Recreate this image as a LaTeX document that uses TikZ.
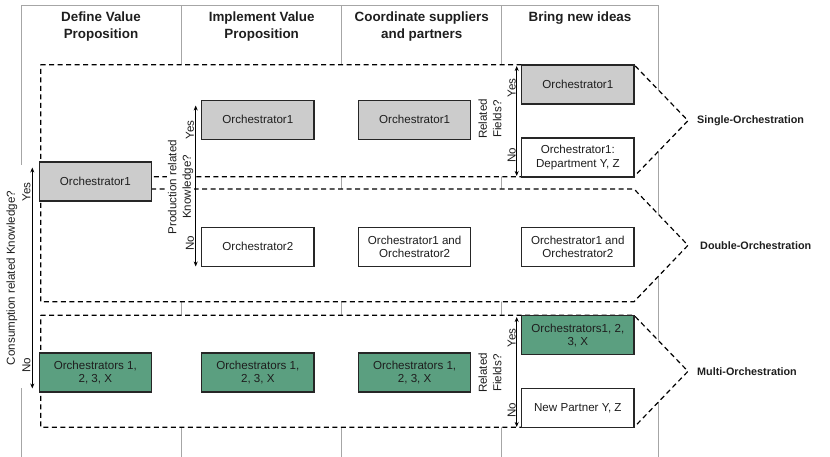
\documentclass[tikz,border=0pt]{standalone}
\usepackage{fontspec}
\setmainfont{Liberation Sans}
\usetikzlibrary{arrows.meta}
\definecolor{gridgrey}{HTML}{A6A6A6}
\definecolor{boxgrey}{HTML}{CCCCCC}
\definecolor{boxgreen}{HTML}{5B9F80}
\definecolor{txt}{HTML}{1E1E1E}
\begin{document}
\begin{tikzpicture}[x=1pt,y=-1pt,
  gridline/.style={draw=gridgrey, line width=1pt},
  chev/.style={draw=black, fill=white, dash pattern=on 5pt off 3.5pt, line width=1.2pt},
  obox/.style={draw=black!85, line width=1.2pt, minimum width=112.3pt, minimum height=39pt, inner sep=1pt, align=center, text=txt, font=\fontsize{11.6}{13.5}\selectfont},
  greybox/.style={obox, fill=boxgrey},
  greenbox/.style={obox, fill=boxgreen},
  whitebox/.style={obox, fill=white},
  header/.style={font=\fontsize{13.4}{16.7}\selectfont\bfseries, align=center, text=txt},
  grouplabel/.style={font=\fontsize{10.8}{13}\selectfont\bfseries, anchor=west, text=txt, inner sep=0pt},
  sidelabel/.style={rotate=90, font=\fontsize{11.6}{14.5}\selectfont, align=center, inner sep=1pt, text=txt},
  yn/.style={rotate=90, font=\fontsize{11.6}{14}\selectfont, inner sep=0pt, text=txt},
  dblarrow/.style={{Stealth[length=5pt,width=4pt]}-{Stealth[length=5pt,width=4pt]}, line width=0.8pt, draw=black}
]
\useasboundingbox (0,0) rectangle (830,457);

% grid lines of the table
\draw[gridline] (21,165) -- (21,6) -- (658,6) -- (658,457);
\draw[gridline] (21,388) -- (21,457);
\draw[gridline] (181.7,6) -- (181.7,457);
\draw[gridline] (341.7,6) -- (341.7,457);
\draw[gridline] (501.7,6) -- (501.7,457);

% headers
\node[header] (h1) at (101,26.7) {Define Value\\Proposition};
\node[header] (h2) at (261.7,26.7) {Implement Value\\Proposition};
\node[header] (h3) at (421.7,26.7) {Coordinate suppliers\\and partners};
\node[header] (h4) at (580,18.3) {Bring new ideas};

% group chevrons
\draw[chev] (40.7,64.7) -- (634,64.7) -- (688,120.7) -- (634,176.7) -- (40.7,176.7) -- cycle;
\draw[chev] (40.7,189) -- (634,189) -- (688,245.3) -- (634,301.7) -- (40.7,301.7) -- cycle;
\draw[chev] (40.7,315.3) -- (634,315.3) -- (688,371.3) -- (634,427.3) -- (40.7,427.3) -- cycle;

\node[grouplabel] (gs) at (697,120.7) {Single-Orchestration};
\node[grouplabel] (gd) at (700,245.5) {Double-Orchestration};
\node[grouplabel] (gm) at (697,371.5) {Multi-Orchestration};

% boxes
\node[greybox]  (d1) at (95.35,181.5) {Orchestrator1};
\node[greenbox] (d3) at (95.35,372.5) {Orchestrators 1,\\2, 3, X};

\node[greybox]  (i1) at (257.85,119.65) {Orchestrator1};
\node[whitebox] (i2) at (257.85,246.7) {Orchestrator2};
\node[greenbox] (i3) at (257.85,372.5) {Orchestrators 1,\\2, 3, X};

\node[greybox]  (c1) at (414.65,119.65) {Orchestrator1};
\node[whitebox] (c2) at (414.65,246.7) {Orchestrator1 and\\Orchestrator2};
\node[greenbox] (c3) at (414.65,372.5) {Orchestrators 1,\\2, 3, X};

\node[greybox]  (b1) at (577.85,84.5) {Orchestrator1};
\node[whitebox] (b2) at (577.85,157.5) {Orchestrator1:\\Department Y, Z};
\node[whitebox] (b3) at (577.85,246.7) {Orchestrator1 and\\Orchestrator2};
\node[greenbox] (b4) at (577.85,335.3) {Orchestrators1, 2,\\3, X};
\node[whitebox] (b5) at (577.85,407.8) {New Partner Y, Z};

% consumption decision
\coordinate (cTop) at (32.3,167.5);
\coordinate (cBot) at (32.3,388.5);
\draw[dblarrow] (cTop) -- (cBot);
\node[sidelabel] (cl) at (12,278) {Consumption related Knowledge?};
\node[yn] (cy) at (26.5,192) {Yes};
\node[yn] (cn) at (26.5,365.5) {No};

% production decision
\coordinate (pTop) at (195.7,105.5);
\coordinate (pBot) at (195.7,266.5);
\draw[dblarrow] (pTop) -- (pBot);
\node[sidelabel, fill=white] (pl) at (180.5,187) {Production related\\Knowledge?};
\node[yn] (py) at (190,130) {Yes};
\node[yn] (pn) at (190,243) {No};

% related fields (single)
\coordinate (rTop) at (516.7,66);
\coordinate (rBot) at (516.7,176);
\draw[dblarrow] (rTop) -- (rBot);
\node[sidelabel] (rl) at (490,119) {Related\\Fields?};
\node[yn] (ry) at (511.7,88) {Yes};
\node[yn] (rn) at (511.7,155) {No};

% related fields (multi)
\coordinate (mTop) at (516.7,317);
\coordinate (mBot) at (516.7,427);
\draw[dblarrow] (mTop) -- (mBot);
\node[sidelabel] (ml) at (490,373) {Related\\Fields?};
\node[yn] (my) at (511.7,338) {Yes};
\node[yn] (mn) at (511.7,410) {No};
\end{tikzpicture}
\end{document}
